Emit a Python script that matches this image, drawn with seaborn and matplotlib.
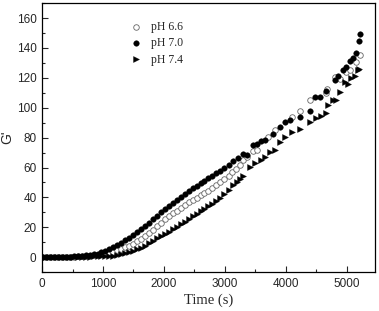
import matplotlib
matplotlib.use("Agg")
import matplotlib.pyplot as plt
from matplotlib.ticker import MultipleLocator
import pandas as pd
import seaborn as sns

# pH 6.6 (open circles)
t_66 = [0, 65, 130, 195, 260, 325, 390, 455, 520, 585, 650, 715, 780, 845, 910, 975,
        1040, 1105, 1170, 1235, 1300, 1365, 1430, 1495, 1560, 1625, 1690, 1755, 1820,
        1885, 1950, 2015, 2080, 2145, 2210, 2275, 2340, 2405, 2470, 2535, 2600, 2665,
        2730, 2795, 2860, 2925, 2990, 3060, 3120, 3190, 3250, 3300, 3370, 3460, 3530,
        3710, 3820, 4093, 4230, 4393, 4666, 4680, 4812, 4885, 4994, 5048, 5158, 5212]
g_66 = [0, 0, 0, 0, 0.1, 0.1, 0.2, 0.3, 0.4, 0.5, 0.6, 0.8, 1.0, 1.2, 1.5, 1.9,
        2.4, 3.0, 3.7, 4.5, 5.4, 6.5, 7.7, 9.0, 10.5, 12.1, 13.9, 15.9, 18.0,
        20.6, 23.2, 25.3, 27.3, 29.3, 31.1, 33.0, 34.8, 36.6, 38.1, 39.7, 41.3, 42.9,
        44.5, 46.2, 48.0, 50.0, 52.0, 54.5, 57.0, 59.0, 61.5, 65.0, 67.0, 71.0, 72.0,
        80.4, 85.0, 93.5, 98.0, 105.0, 110.0, 112.6, 120.4, 119.3, 123.7, 125.0, 130.4, 135.0]

# pH 7.0 (filled circles)
t_70 = [0, 65, 130, 195, 260, 325, 390, 455, 520, 585, 650, 715, 780, 845, 910, 975,
        1040, 1105, 1170, 1235, 1300, 1365, 1430, 1495, 1560, 1625, 1690, 1755, 1820,
        1885, 1950, 2015, 2080, 2145, 2210, 2275, 2340, 2405, 2470, 2535, 2600, 2665,
        2730, 2795, 2860, 2925, 2990, 3060, 3140, 3220, 3300, 3360, 3460, 3520, 3600,
        3660, 3790, 3900, 3980, 4060, 4230, 4393, 4475, 4557, 4666, 4803, 4860, 4940,
        4994, 5048, 5100, 5158, 5200, 5212]
g_70 = [0, 0, 0, 0, 0.1, 0.2, 0.3, 0.4, 0.6, 0.8, 1.0, 1.2, 1.5, 1.9, 2.4, 3.2,
        4.2, 5.3, 6.6, 8.0, 9.6, 11.3, 13.0, 14.9, 16.8, 18.8, 21.0, 23.2, 25.4,
        27.6, 30.0, 32.2, 34.3, 36.4, 38.5, 40.4, 42.3, 44.3, 46.1, 47.7, 49.5, 51.2,
        52.8, 54.6, 56.2, 57.8, 59.5, 61.5, 64.6, 66.5, 68.8, 68.5, 75.0, 76.0, 77.5,
        78.5, 82.5, 87.0, 90.4, 91.5, 93.7, 98.0, 107.0, 107.5, 111.5, 118.5, 121.5, 125.0,
        127.5, 131.5, 133.5, 136.4, 144.4, 149.5]

# pH 7.4 (triangles)
t_74 = [0, 65, 130, 195, 260, 325, 390, 455, 520, 585, 650, 715, 780, 845, 910, 975,
        1040, 1105, 1170, 1235, 1300, 1365, 1430, 1495, 1560, 1625, 1690, 1755, 1820,
        1885, 1950, 2015, 2080, 2145, 2210, 2275, 2340, 2405, 2470, 2535, 2600, 2665,
        2730, 2795, 2860, 2925, 2990, 3060, 3130, 3200, 3250, 3300, 3409, 3491, 3600,
        3655, 3737, 3820, 3900, 3983, 4093, 4229, 4393, 4490, 4584, 4666, 4694, 4775,
        4830, 4885, 4967, 5020, 5076, 5130, 5185, 5200]
g_74 = [0, 0, 0, 0, 0, 0, 0.1, 0.1, 0.2, 0.2, 0.3, 0.3, 0.4, 0.5, 0.5, 0.6,
        0.7, 0.9, 1.1, 1.5, 2.0, 2.6, 3.3, 4.2, 5.2, 6.4, 7.8, 9.4, 11.0,
        12.5, 14.0, 15.6, 17.1, 18.6, 20.3, 22.0, 23.8, 25.6, 27.3, 29.0, 30.7, 32.4,
        34.1, 35.9, 37.8, 39.8, 42.0, 45.0, 48.0, 50.5, 52.5, 54.5, 60.4, 62.7, 65.0,
        67.0, 70.4, 71.5, 77.0, 80.4, 83.7, 86.0, 90.4, 93.3, 94.2, 96.4, 101.5, 105.0,
        105.5, 110.4, 117.0, 116.0, 120.0, 121.5, 125.0, 126.0]

sns.set_style("ticks")
plt.rcParams["font.family"] = ["Liberation Sans", "DejaVu Sans"]

fig = plt.figure(figsize=(3.79, 3.11), dpi=100)
ax = fig.add_axes([0.111, 0.125, 0.878, 0.865])

sns.scatterplot(x=t_66, y=g_66, ax=ax, marker="o", s=16, facecolor="white",
                edgecolor="#666666", linewidth=0.6, label="pH 6.6")
sns.scatterplot(x=t_70, y=g_70, ax=ax, marker="o", s=16, color="black",
                edgecolor="black", linewidth=0.3, label="pH 7.0")
sns.scatterplot(x=t_74, y=g_74, ax=ax, marker=">", s=18, color="black",
                edgecolor="black", linewidth=0.3, label="pH 7.4")

ax.set_xlim(0, 5460)
ax.set_ylim(-10, 170)
ax.xaxis.set_major_locator(MultipleLocator(1000))
ax.xaxis.set_minor_locator(MultipleLocator(500))
ax.yaxis.set_major_locator(MultipleLocator(20))
ax.yaxis.set_minor_locator(MultipleLocator(10))
ax.tick_params(which="major", direction="in", length=4, width=0.8, labelsize=8.5, pad=4)
ax.tick_params(which="minor", direction="in", length=2.5, width=0.8)
for sp in ax.spines.values():
    sp.set_linewidth(0.9)
    sp.set_color("black")

ax.set_xlabel("Time (s)", family="Liberation Serif", fontsize=10.5, labelpad=3)
ax.set_ylabel("G'", fontsize=10, labelpad=2)

leg = ax.legend(loc="upper left", bbox_to_anchor=(0.25, 0.95), frameon=False,
                prop={"family": "Liberation Serif", "size": 8.5}, handletextpad=0.8,
                labelspacing=0.35, handlelength=1.0, borderaxespad=0)

fig.savefig("out.png", dpi=100)
